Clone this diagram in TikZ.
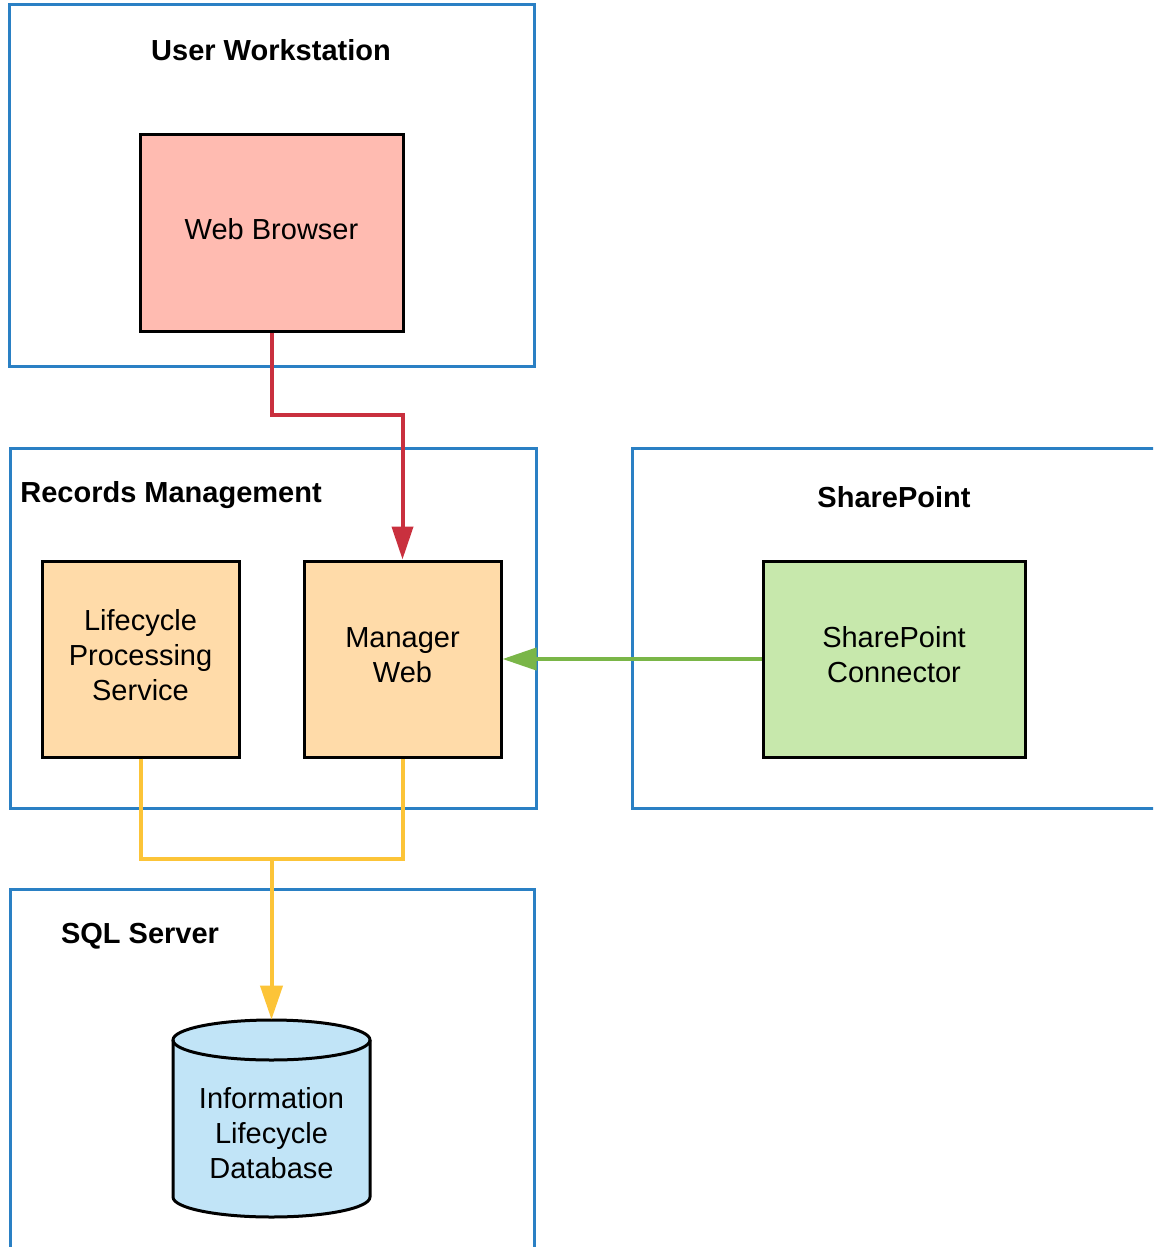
\documentclass[tikz,border=0pt]{standalone}
\usepackage{fontspec}
\setmainfont{Liberation Sans}
\usetikzlibrary{arrows.meta,calc}
\definecolor{cblue}{HTML}{2A80C4}
\definecolor{cred}{HTML}{C9303E}
\definecolor{cgreen}{HTML}{7AB648}
\definecolor{cyellow}{HTML}{FCC438}
\definecolor{fpink}{HTML}{FFBBB1}
\definecolor{forange}{HTML}{FFDBA9}
\definecolor{fgreen}{HTML}{C7E8AC}
\definecolor{fblue}{HTML}{C1E4F7}
\begin{document}
\begin{tikzpicture}[x=0.5pt,y=-0.5pt,
  container/.style={draw=cblue,line width=1.5pt,inner sep=0pt},
  compbox/.style={draw=black,line width=1.5pt,inner sep=0pt},
  boxtext/.style={inner sep=0pt,align=center,yshift=2pt,font=\fontsize{14.5}{17.5}\selectfont},
  titletext/.style={inner sep=0pt,font=\bfseries\fontsize{14.5}{17.5}\selectfont},
  redc/.style={draw=cred,line width=2pt,-{Triangle[width=10.5pt,length=16.5pt]}},
  greenc/.style={draw=cgreen,line width=2pt,-{Triangle[width=11pt,length=17pt]}},
  yellowc/.style={draw=cyellow,line width=2pt},
  yellowa/.style={draw=cyellow,line width=2pt,-{Triangle[width=11pt,length=17pt]}}]
\useasboundingbox (0,0) rectangle (1153,1247);
\clip (0,0) rectangle (1153,1247);
% containers
\node[container,minimum width=262.5pt,minimum height=180.5pt] (uw) at (271.5,185.5) {};
\node[container,minimum width=263pt,minimum height=180pt] (rm) at (273,628) {};
\node[container,minimum width=270pt,minimum height=180pt] (sp) at (902,628) {};
\node[container,minimum width=262pt,minimum height=190pt] (sql) at (272,1079) {};
% titles
\node[titletext] (uwt) at (271,50) {User Workstation};
\node[titletext,anchor=west] (rmt) at (20,495) {Records Management};
\node[titletext] (spt) at (894,497) {SharePoint};
\node[titletext] (sqlt) at (140,936) {SQL Server};
% components
\node[compbox,fill=fpink,minimum width=131.5pt,minimum height=98pt,
  label={[boxtext]center:Web Browser}] (wb) at (271.5,233) {};
\node[compbox,fill=forange,minimum width=98.5pt,minimum height=98pt,
  label={[boxtext]center:Lifecycle\\Processing\\Service}] (lps) at (140.5,659) {};
\node[compbox,fill=forange,minimum width=98.5pt,minimum height=98pt,
  label={[boxtext]center:Manager\\Web}] (mw) at (402.5,659) {};
\node[compbox,fill=fgreen,minimum width=131pt,minimum height=98pt,
  label={[boxtext]center:SharePoint\\Connector}] (spc) at (894,659) {};
% database cylinder
\fill[fblue] (173,1040) -- (173,1197) arc[start angle=180,end angle=0,x radius=98.5,y radius=20]
  -- (370,1040) arc[start angle=0,end angle=-180,x radius=98.5,y radius=20] -- cycle;
\draw[black,line width=1.5pt] (173,1040) -- (173,1197) arc[start angle=180,end angle=0,x radius=98.5,y radius=20]
  -- (370,1040);
\draw[black,line width=1.5pt] (271.5,1040) ellipse[x radius=98.5,y radius=20];
\node[inner sep=0pt,minimum width=98.5pt,minimum height=98pt] (db) at (271.5,1118) {};
\node[boxtext,yshift=-2pt] (dbt) at (271.5,1133) {Information\\Lifecycle\\Database};
% connectors
\draw[redc] (wb.south) -- ++(0,82) -| (mw.north);
\draw[greenc] (spc.west) -- (mw.east);
\draw[yellowc] (lps.south) -- ++(0,100) -| (mw.south);
\coordinate (j) at ($(lps.south)!0.5!(mw.south)+(0,100)$);
\draw[yellowa] (j) -- (db.north);
\end{tikzpicture}
\end{document}
